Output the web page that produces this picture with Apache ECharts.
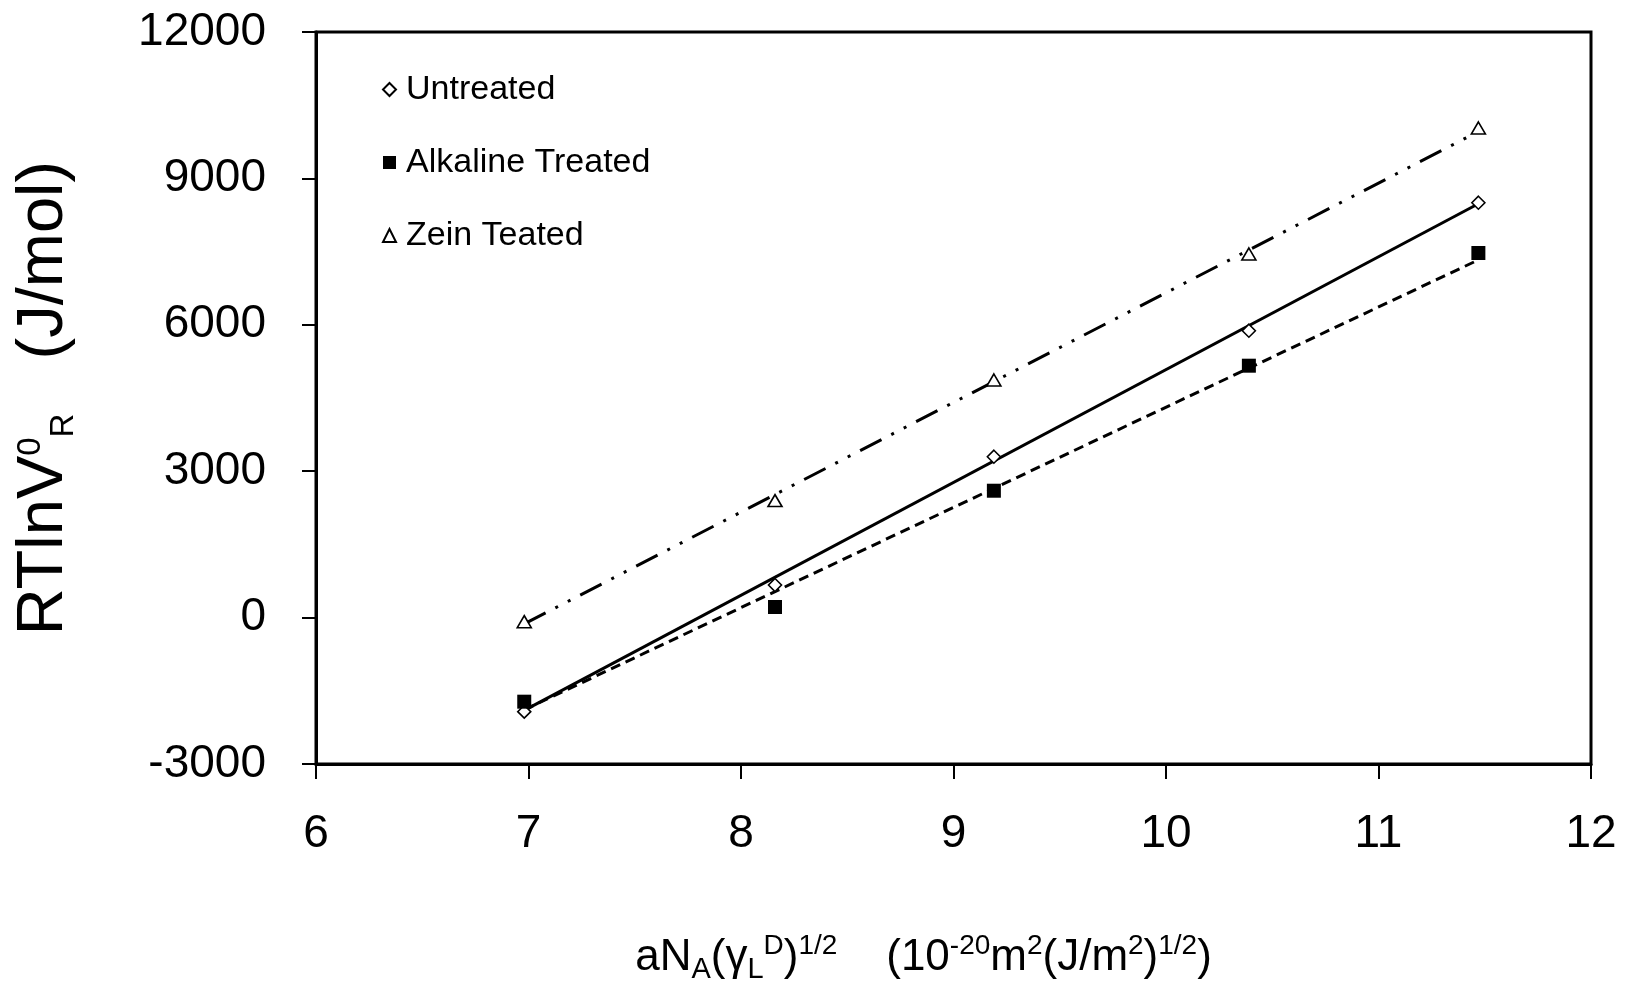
<!DOCTYPE html>
<html>
<head>
<meta charset="utf-8">
<script src="https://cdn.jsdelivr.net/npm/echarts@6/dist/echarts.min.js"></script>
<style>
html,body{margin:0;padding:0;background:#fff;}
#chart{width:1625px;height:994px;}
</style>
</head>
<body>
<div id="chart"></div>
<script>
// ---- data ----
const seriesNames = ['Untreated', 'Alkaline Treated', 'Zein Teated'];
const xValues = [6.98, 8.16, 9.19, 10.39, 11.47];
const untreated = [-1928, 668, 3297, 5879, 8502];
const alkaline = [-1723, 217, 2600, 5162, 7471];
const zein = [-84, 2398, 4869, 7451, 10033];
// trend-line end points [x, y]
const untreatedFit = [[6.98, -1900], [11.47, 8480]];
const alkalineFit = [[6.98, -1890], [11.47, 7330]];
const zeinFit = [[6.98, -130], [11.47, 9960]];
// axis ticks
const xTicks = [6, 7, 8, 9, 10, 11, 12];
const yTicks = [-3000, 0, 3000, 6000, 9000, 12000];

const FONT = "'Liberation Sans', Arial, sans-serif";
const pts = ys => xValues.map((x, i) => [x, ys[i]]);

const chart = echarts.init(document.getElementById('chart'), null, {renderer: 'canvas'});

const axisCommon = {
  axisLine: {show: true, onZero: false, lineStyle: {color: '#000', width: 3}},
  splitLine: {show: false}
};

chart.setOption({
  animation: false,
  backgroundColor: '#fff',
  grid: {left: 312, right: 34, top: 32, bottom: 230, show: true, borderColor: '#000', borderWidth: 3, backgroundColor: 'transparent'},
  legend: {
    orient: 'vertical',
    left: 377,
    top: 67,
    itemGap: 38,
    itemWidth: 13,
    itemHeight: 13,
    textStyle: {fontFamily: FONT, fontSize: 34, color: '#000', lineHeight: 35, padding: [0, 0, 0, 5]},
    data: [
      {name: seriesNames[0], icon: 'diamond'},
      {name: seriesNames[1], icon: 'rect'},
      {name: seriesNames[2], icon: 'triangle'}
    ]
  },
  xAxis: Object.assign({}, axisCommon, {
    type: 'value',
    min: xTicks[0], max: xTicks[xTicks.length - 1], interval: 1,
    axisTick: {show: true, length: 15, lineStyle: {color: '#000', width: 2}},
    axisLabel: {color: '#000', fontFamily: FONT, fontSize: 46, margin: 47, formatter: v => String(v)},
    nameLocation: 'middle',
    nameGap: 168,
    name: '{m|aN}{sub|A}{m|(γ}{sub|L}{sup|D}{m|)}{sup|1/2}{m|    (10}{sup|-20}{m|m}{sup|2}{m|(J/m}{sup|2}{m|)}{sup|1/2}{m|)}',
    nameTextStyle: {
      color: '#000', fontFamily: FONT, fontSize: 44,
      padding: [0, 60, 0, 0],
      rich: {
        m: {fontFamily: FONT, fontSize: 44, lineHeight: 52, color: '#000'},
        sup: {fontFamily: FONT, fontSize: 28, lineHeight: 28, verticalAlign: 'top', color: '#000'},
        sub: {fontFamily: FONT, fontSize: 29, lineHeight: 29, verticalAlign: 'bottom', color: '#000'}
      }
    }
  }),
  yAxis: Object.assign({}, axisCommon, {
    type: 'value',
    min: yTicks[0], max: yTicks[yTicks.length - 1], interval: 3000,
    axisTick: {show: true, length: 14, lineStyle: {color: '#000', width: 2}},
    axisLabel: {color: '#000', fontFamily: FONT, fontSize: 46, margin: 50, formatter: v => String(v)},
    nameLocation: 'middle',
    nameRotate: 90,
    nameGap: 236,
    name: '{m|RTlnV}{sup|0}{sub|R}{m|   (J/mol)}',
    nameTextStyle: {
      color: '#000', fontFamily: FONT, fontSize: 65,
      rich: {
        m: {fontFamily: FONT, fontSize: 65, lineHeight: 72, color: '#000'},
        sup: {fontFamily: FONT, fontSize: 33, lineHeight: 33, verticalAlign: 'top', padding: [6, 0, 0, 0], color: '#000'},
        sub: {fontFamily: FONT, fontSize: 33, lineHeight: 33, verticalAlign: 'bottom', color: '#000'}
      }
    }
  }),
  series: [
    {
      name: seriesNames[0] + ' fit', type: 'line', data: untreatedFit, symbol: 'none', silent: true,
      lineStyle: {color: '#000', width: 3, type: 'solid'}, z: 2
    },
    {
      name: seriesNames[1] + ' fit', type: 'line', data: alkalineFit, symbol: 'none', silent: true,
      lineStyle: {color: '#000', width: 3, type: [10, 6]}, z: 2
    },
    {
      name: seriesNames[2] + ' fit', type: 'line', data: zeinFit, symbol: 'none', silent: true,
      lineStyle: {color: '#000', width: 3, type: [24, 11, 3, 11, 3, 11]}, z: 2
    },
    {
      name: seriesNames[0], type: 'scatter', data: pts(untreated), symbol: 'diamond', symbolSize: [13, 13],
      itemStyle: {color: '#fff', borderColor: '#000', borderWidth: 1.6, opacity: 1}, z: 3
    },
    {
      name: seriesNames[1], type: 'scatter', data: pts(alkaline), symbol: 'rect', symbolSize: [14, 14],
      itemStyle: {color: '#000', borderColor: '#000', borderWidth: 0, opacity: 1}, z: 3
    },
    {
      name: seriesNames[2], type: 'scatter', data: pts(zein), symbol: 'triangle', symbolSize: [14, 12],
      itemStyle: {color: '#fff', borderColor: '#000', borderWidth: 1.6, opacity: 1}, z: 3
    }
  ]
});
</script>
</body>
</html>
